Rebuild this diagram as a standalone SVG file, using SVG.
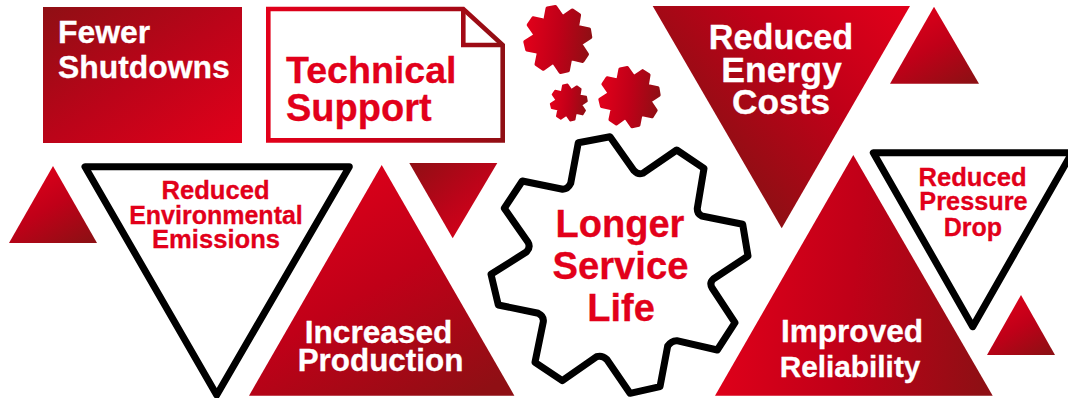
<svg xmlns="http://www.w3.org/2000/svg" width="1068" height="398" viewBox="0 0 1068 398">
<style>
text{font-family:"Liberation Sans",Arial,sans-serif;font-weight:700;stroke-width:.3}
.w{fill:#fff;stroke:#fff}
.r{fill:#e2001a;stroke:#e2001a}
.m{text-anchor:middle}
.o{fill:#fff;stroke:#000;stroke-width:7;stroke-linejoin:round}
</style>
<defs>
<linearGradient id="tl" x1="0.2" y1="0" x2="0.85" y2="1"><stop offset="0" stop-color="#e2001a"/><stop offset="0.5" stop-color="#c00018"/><stop offset="1" stop-color="#8f0f14"/></linearGradient>
<linearGradient id="br" x1="0" y1="0" x2="1" y2="1"><stop offset="0" stop-color="#8f0f14"/><stop offset="0.5" stop-color="#bb0419"/><stop offset="1" stop-color="#e2001a"/></linearGradient>
<linearGradient id="energy" gradientUnits="userSpaceOnUse" x1="910" y1="6" x2="727" y2="166"><stop offset="0" stop-color="#e2001a"/><stop offset="0.5" stop-color="#c00018"/><stop offset="1" stop-color="#8f0f14"/></linearGradient>
<linearGradient id="lr" x1="0" y1="0.45" x2="1" y2="0.55"><stop offset="0" stop-color="#e2001a"/><stop offset="0.5" stop-color="#c00018"/><stop offset="1" stop-color="#8f0f14"/></linearGradient>
<linearGradient id="doc" gradientUnits="userSpaceOnUse" x1="266" y1="75" x2="505" y2="75"><stop offset="0" stop-color="#e2001a"/><stop offset="0.5" stop-color="#c80018"/><stop offset="1" stop-color="#8f0f14"/></linearGradient>
<path id="gear" d="M578.3 142.7L610 136.7L634 170.7Q638 175 642.7 173.3L676.7 150L704 168.3L697.3 208.3Q697 214 701.7 216L742.7 224.3L748 256L713.3 279Q709 283 712.3 288.3L735 322.7L717.3 350L676.7 340.7Q671 341 667.7 346L660 386.7L630 393.3L606.7 359.3Q602 355 596.7 356.7L562.3 380.7L535 362.3L543.3 321.7Q544 316 538.3 313.3L498.3 305L491 274.3L526.7 251.7Q531 247 527.7 241.7L504.3 208.3L522.3 181L562.7 189.3Q568 189 570.7 183.3Z"/>
</defs>
<g id="fewer-shutdowns">
<rect x="43" y="7" width="199" height="136" fill="url(#br)"/>
<text class="w" font-size="31.9" x="58" y="42.7">Fewer</text>
<text class="w" font-size="31.9" x="58" y="78">Shutdowns</text>
</g>
<g id="technical-support">
<path d="M268.3 9H463.3L502.7 45V140.4H268.3Z" fill="#fff" stroke="url(#doc)" stroke-width="4.6"/>
<path d="M463.3 9V45H502.7" fill="none" stroke="url(#doc)" stroke-width="4.6"/>
<text class="r" font-size="37.6" x="286" y="83.3">Technical</text>
<text class="r" font-size="38" x="286" y="120.7">Support</text>
</g>
<g id="gear-small-1"><use href="#gear" fill="url(#lr)" stroke="url(#lr)" stroke-width="14" stroke-linejoin="round" transform="translate(557.8,39.5) scale(.2546) translate(-619.5,-265)"/></g>
<g id="gear-small-2"><use href="#gear" fill="url(#lr)" stroke="url(#lr)" stroke-width="14" stroke-linejoin="round" transform="translate(629.5,97.2) scale(.23) translate(-619.5,-265)"/></g>
<g id="gear-small-3"><use href="#gear" fill="url(#lr)" stroke="url(#lr)" stroke-width="14" stroke-linejoin="round" transform="translate(568.8,102.5) scale(.14) translate(-619.5,-265)"/></g>
<g id="reduced-energy-costs">
<path d="M652.7 6H910L781.7 228.3Z" fill="url(#energy)"/>
<text class="w m" font-size="34.2" x="781" y="49.3">Reduced</text>
<text class="w m" font-size="35.6" x="781.5" y="82.3">Energy</text>
<text class="w m" font-size="35.3" x="781" y="114">Costs</text>
</g>
<g id="triangle-top-right"><path d="M934 6.7L979 83.7H890Z" fill="url(#tl)"/></g>
<g id="triangle-left"><path d="M53 166L97 243H9Z" fill="url(#tl)"/></g>
<g id="reduced-environmental-emissions">
<path class="o" d="M85 166.7H349.3L216.7 395Z"/>
<text class="r m" font-size="25.6" x="215.5" y="199.3">Reduced</text>
<text class="r m" font-size="25" x="216" y="224">Environmental</text>
<text class="r m" font-size="25.6" x="216" y="248.3">Emissions</text>
</g>
<g id="increased-production">
<path d="M381.7 165L514.4 395.7H249Z" fill="url(#tl)"/>
<text class="w m" font-size="31.6" x="378.5" y="343.3">Increased</text>
<text class="w m" font-size="31.4" x="380.5" y="371">Production</text>
</g>
<g id="triangle-mid"><path d="M409.3 163H497.3L452.7 238.3Z" fill="url(#br)"/></g>
<g id="longer-service-life">
<use href="#gear" fill="#fff" stroke="#000" stroke-width="7" stroke-linejoin="round"/>
<text class="r m" font-size="38" x="620" y="236.7">Longer</text>
<text class="r m" font-size="38.2" x="620.5" y="279">Service</text>
<text class="r m" font-size="38" x="621" y="321">Life</text>
</g>
<g id="improved-reliability">
<path d="M853.3 155L992.7 395.7H715Z" fill="url(#lr)"/>
<text class="w m" font-size="31.6" x="852" y="341.7">Improved</text>
<text class="w m" font-size="29.8" x="850" y="376.7">Reliability</text>
</g>
<g id="reduced-pressure-drop">
<path class="o" d="M873.3 152.7H1072L972.7 326.7Z"/>
<text class="r m" font-size="25.6" x="972.5" y="185.7">Reduced</text>
<text class="r m" font-size="25.3" x="973.5" y="210">Pressure</text>
<text class="r m" font-size="25" x="972.8" y="235.7">Drop</text>
</g>
<g id="triangle-bottom-right"><path d="M1021 295L1055 355H987Z" fill="url(#tl)"/></g>
</svg>
